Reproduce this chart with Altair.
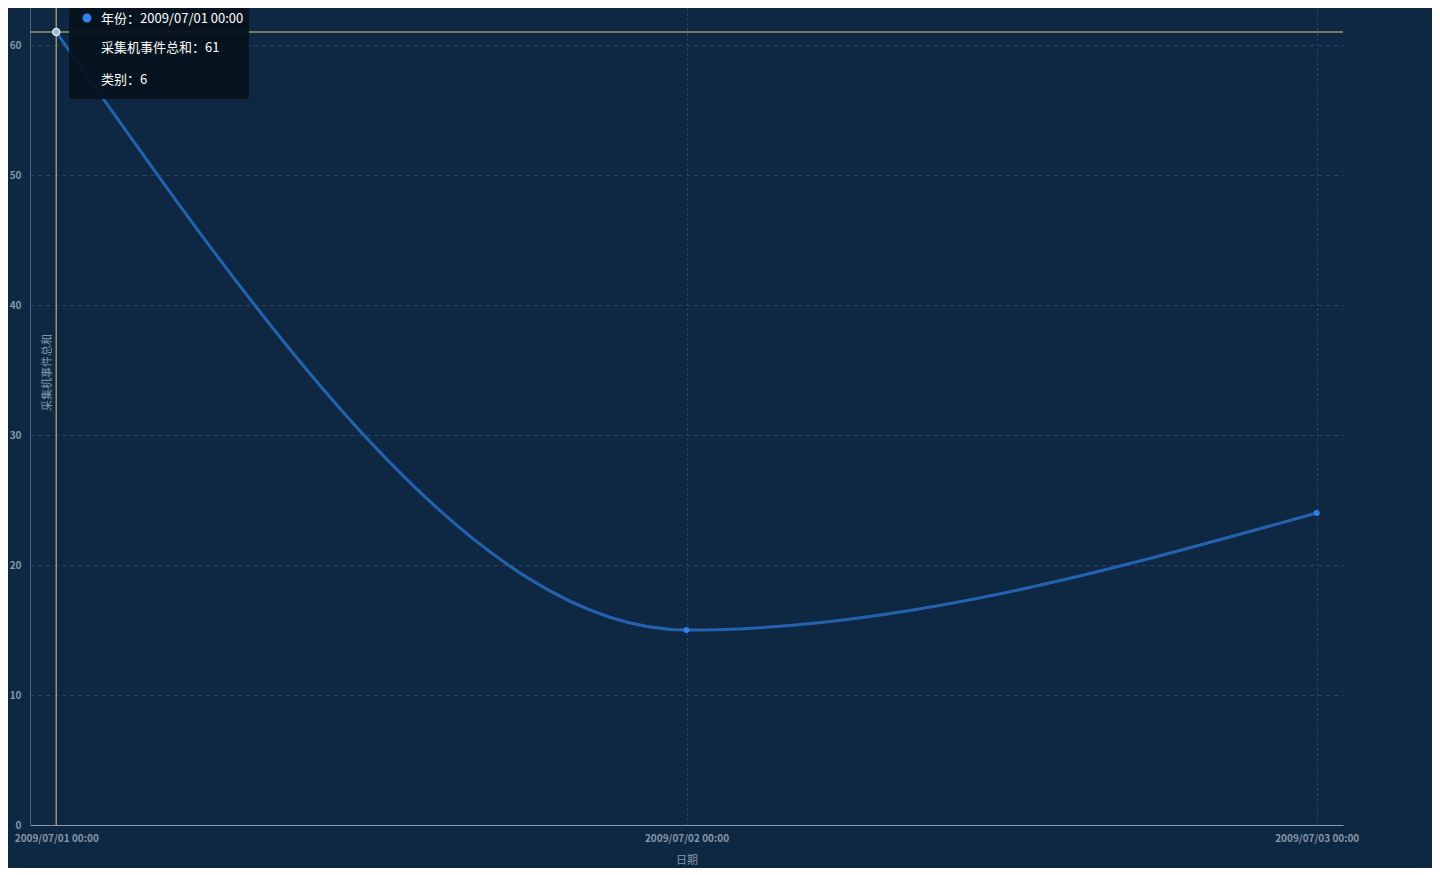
import altair as alt
import pandas as pd

# ---- data ----
dates = ["2009-07-01", "2009-07-02", "2009-07-03"]
date_labels = ["2009/07/01 00:00", "2009/07/02 00:00", "2009/07/03 00:00"]
totals = [61, 15, 24]
categories = [6, 6, 6]
y_ticks = [0, 10, 20, 30, 40, 50, 60]

df = pd.DataFrame({"date": dates, "label": date_labels, "total": totals, "cat": categories})
hover = df.iloc[[0]].copy()

BG = "#0e2843"
FONT = "Noto Sans CJK SC"
LABEL_C = "#8695a8"
CROSS_C = "#9a9567"

def dt(y, m, d, h=0):
    return alt.DateTime(year=y, month=m, date=d, hours=h, utc=True)

x_domain = [dt(2009, 6, 30, 23), dt(2009, 7, 3, 1)]
x_vals = [dt(2009, 7, 1), dt(2009, 7, 2), dt(2009, 7, 3)]

x_enc = alt.X(
    "date:T",
    scale=alt.Scale(type="utc", domain=x_domain, nice=False),
    axis=alt.Axis(
        values=x_vals, labelExpr="utcFormat(datum.value, '%Y/%m/%d %H:%M')",
        title="日期", titleY=35, titleBaseline="middle", titleColor=LABEL_C,
        titleFontSize=11, titleFontWeight="normal",
        labelColor=LABEL_C, labelFontSize=10, labelFontWeight="bold", labelPadding=8,
        ticks=False, domainColor="#8a97a8", domainWidth=1.2,
        grid=True, gridColor="#2e4d6b", gridDash=[2, 3], gridWidth=1,
    ),
)
y_enc = alt.Y(
    "total:Q",
    scale=alt.Scale(domain=[0, 62.85], nice=False, zero=True),
    axis=alt.Axis(
        values=y_ticks, title="采集机事件总和", titleX=17, titleY=364,
        titleAngle=-90, titleBaseline="middle", titleAlign="center",
        titleColor=LABEL_C, titleFontSize=11, titleFontWeight="normal",
        labelColor=LABEL_C, labelFontSize=10, labelFontWeight="bold", labelPadding=9,
        ticks=False, domainColor="#4a6580", domainWidth=1,
        grid=True, gridColor="#2a4866", gridDash=[4, 4], gridWidth=1,
    ),
)

base = alt.Chart(df)

line = base.mark_line(interpolate="monotone", color="#2462ae", strokeWidth=3).encode(x=x_enc, y=y_enc)
points = base.mark_circle(color="#2f80e8", size=36, opacity=1).encode(x="date:T", y="total:Q")

hbase = alt.Chart(hover)
h_rule = hbase.mark_rule(color=CROSS_C, strokeWidth=1.5).encode(y="total:Q")
v_rule = hbase.mark_rule(color=CROSS_C, strokeWidth=1.5).encode(x="date:T")
h_point = hbase.mark_point(filled=True, fill="#9fb8d0", stroke="#d8e4ef", strokeWidth=1.5,
                           size=50, opacity=1).encode(x="date:T", y="total:Q")

tip_box = hbase.mark_rect(color="#06111c", opacity=0.92, cornerRadius=3).encode(
    x=alt.value(39), x2=alt.value(219), y=alt.value(0), y2=alt.value(91)
)
tip_dot = hbase.mark_circle(color="#2f80e8", size=80, opacity=1).encode(
    x=alt.value(57), y=alt.value(10)
)
tip_t1 = hbase.transform_calculate(t="'年份：' + datum.label").mark_text(
    align="left", baseline="middle", color="#ffffff", fontSize=13, font=FONT
).encode(x=alt.value(71), y=alt.value(11), text="t:N")
tip_t2 = hbase.transform_calculate(t="'采集机事件总和：' + datum.total").mark_text(
    align="left", baseline="middle", color="#ffffff", fontSize=13, font=FONT
).encode(x=alt.value(71), y=alt.value(40), text="t:N")
tip_t3 = hbase.transform_calculate(t="'类别：' + datum.cat").mark_text(
    align="left", baseline="middle", color="#ffffff", fontSize=13, font=FONT
).encode(x=alt.value(71), y=alt.value(72), text="t:N")

chart = alt.layer(
    line, points, h_rule, v_rule, h_point, tip_box, tip_dot, tip_t1, tip_t2, tip_t3
).properties(
    width=1313, height=817,
    background=BG,
    padding={"left": 22, "top": 0, "right": 89, "bottom": 43},
    autosize=alt.AutoSizeParams(type="none"),
    view=alt.ViewBackground(strokeOpacity=0, strokeWidth=0),
).configure_view(
    strokeOpacity=0, strokeWidth=0
).configure(
    font=FONT
)

chart.save("out.html", embed_options={"renderer": "svg", "actions": False})
